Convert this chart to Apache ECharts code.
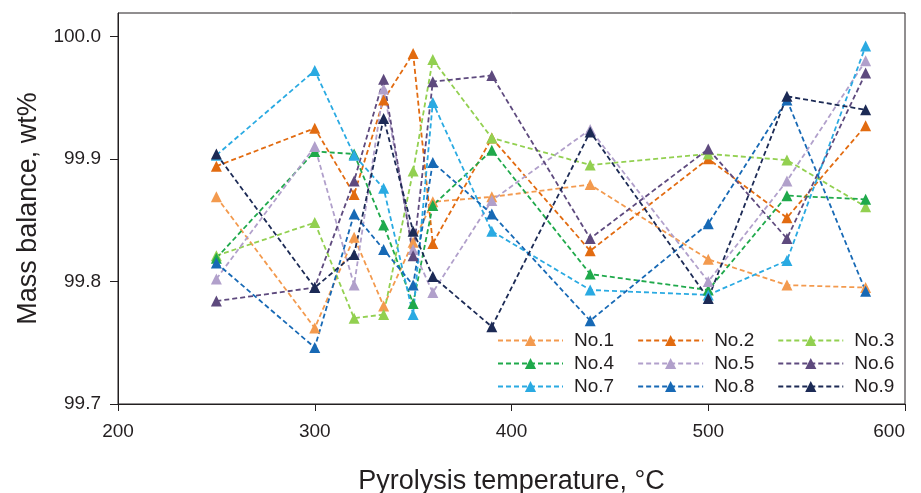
<!DOCTYPE html>
<html>
<head>
<meta charset="utf-8">
<script src="https://cdn.jsdelivr.net/npm/echarts@6/dist/echarts.min.js"></script>
<style>
  html, body { margin: 0; padding: 0; background: #ffffff; }
  #chart { width: 921px; height: 493px; }
</style>
</head>
<body>
<div id="chart"></div>
<script>
// Pyrolysis temperatures (°C) at which each run was sampled
const temperatures = [250, 300, 320, 335, 350, 360, 390, 440, 500, 540, 580];

// Mass balance (wt%) for each run
const no1 = [99.869, 99.762, 99.836, 99.780, 99.832, 99.865, 99.869, 99.879, 99.818, 99.797, 99.795];
const no2 = [99.894, 99.925, 99.871, 99.948, 99.986, 99.831, 99.917, 99.825, 99.900, 99.852, 99.927];
const no3 = [99.821, 99.848, 99.770, 99.773, 99.890, 99.981, 99.917, 99.895, 99.904, 99.899, 99.861];
const no4 = [99.819, 99.906, 99.904, 99.846, 99.782, 99.862, 99.907, 99.806, 99.793, 99.870, 99.867];
const no5 = [99.802, 99.910, 99.797, 99.957, 99.826, 99.791, 99.866, 99.924, 99.800, 99.882, 99.980];
const no6 = [99.784, 99.795, 99.882, 99.965, 99.821, 99.963, 99.968, 99.835, 99.908, 99.835, 99.970];
const no7 = [99.903, 99.972, 99.903, 99.876, 99.773, 99.946, 99.841, 99.793, 99.789, 99.817, 99.992];
const no8 = [99.815, 99.746, 99.855, 99.826, 99.797, 99.897, 99.855, 99.768, 99.847, 99.948, 99.792];
const no9 = [99.904, 99.795, 99.822, 99.933, 99.841, 99.804, 99.763, 99.922, 99.786, 99.951, 99.940];

const seriesNames = ['No.1', 'No.2', 'No.3', 'No.4', 'No.5', 'No.6', 'No.7', 'No.8', 'No.9'];
const seriesValues = [no1, no2, no3, no4, no5, no6, no7, no8, no9];
const seriesColors = ['#F39A4E', '#E26B10', '#92D050', '#1FA94B', '#B1A0CB', '#5E4A7E', '#2AAAE2', '#1769B5', '#1C2A55'];

// Axis ticks
const xTicks = { min: 200, max: 600, interval: 100 };
const yTickValues = [99.7, 99.8, 99.9, 100.0];

const ink = '#231f20';
const font = 'Liberation Sans, Arial, sans-serif';

const series = seriesNames.map((name, k) => ({
  name: name,
  type: 'line',
  data: temperatures.map((t, i) => [t, seriesValues[k][i]]),
  symbol: 'triangle',
  symbolSize: 11,
  showAllSymbol: true,
  itemStyle: { color: seriesColors[k] },
  lineStyle: { color: seriesColors[k], width: 1.8, type: [5, 3] },
  emphasis: { disabled: true },
  animation: false
}));

function legendRow(names, top) {
  return {
    data: names,
    orient: 'horizontal',
    left: 497,
    top: top,
    padding: 0,
    itemWidth: 65,
    itemHeight: 14,
    itemGap: 23,
    textStyle: { fontFamily: font, fontSize: 19, color: ink, padding: [0, 0, 0, 6] }
  };
}

const chart = echarts.init(document.getElementById('chart'), null, { renderer: 'canvas' });
chart.setOption({
  backgroundColor: '#ffffff',
  animation: false,
  grid: {
    left: 118, right: 16, top: 13, bottom: 89,
    outerBoundsMode: 'none',
    containLabel: false,
    show: true, borderColor: ink, borderWidth: 1, backgroundColor: 'transparent'
  },
  legend: [
    legendRow(['No.1', 'No.2', 'No.3'], 331),
    legendRow(['No.4', 'No.5', 'No.6'], 354),
    legendRow(['No.7', 'No.8', 'No.9'], 377)
  ],
  xAxis: {
    type: 'value',
    min: xTicks.min, max: xTicks.max, interval: xTicks.interval,
    name: 'Pyrolysis temperature, °C',
    nameLocation: 'middle',
    nameGap: 64,
    nameTextStyle: { fontFamily: font, fontSize: 27, color: ink },
    axisLine: { show: true, lineStyle: { color: ink, width: 1 } },
    axisTick: { show: true, inside: false, length: 7, lineStyle: { color: ink, width: 1 } },
    axisLabel: { fontFamily: font, fontSize: 19, color: ink, margin: 18, alignMaxLabel: 'right' },
    splitLine: { show: false }
  },
  yAxis: {
    type: 'value',
    min: 99.7, max: 100.019,
    name: 'Mass balance, wt%',
    nameLocation: 'middle',
    nameGap: 76,
    nameRotate: 90,
    nameTextStyle: { fontFamily: font, fontSize: 27, color: ink },
    axisLine: { show: true, lineStyle: { color: ink, width: 1 } },
    axisTick: { show: true, inside: false, length: 8, customValues: yTickValues, lineStyle: { color: ink, width: 1 } },
    axisLabel: {
      fontFamily: font, fontSize: 19, color: ink, margin: 17,
      customValues: yTickValues,
      formatter: v => Number(v).toFixed(1)
    },
    splitLine: { show: false }
  },
  series: series
});
</script>
</body>
</html>
